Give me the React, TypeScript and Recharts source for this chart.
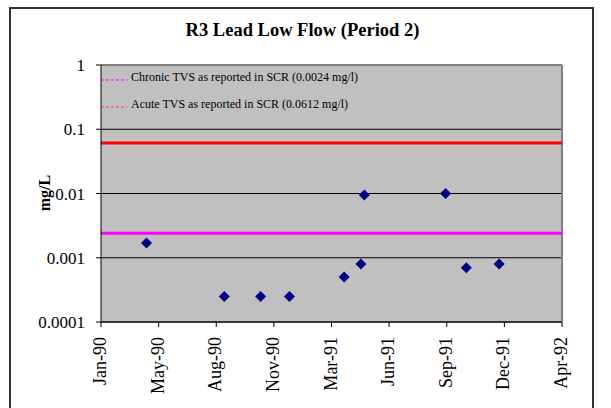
import {
  ReferenceLine,
  Scatter,
  ScatterChart,
  CartesianGrid,
  XAxis,
  YAxis,
} from "recharts";

const FONT = "'Liberation Serif', 'Times New Roman', serif";

// sampling dates and measured lead (mg/L)
const sampleDates = [
  "1990-04-16",
  "1990-08-29",
  "1990-10-31",
  "1990-12-20",
  "1991-03-25",
  "1991-04-23",
  "1991-04-29",
  "1991-09-17",
  "1991-10-23",
  "1991-12-19",
];
const leadValues = [0.0017, 0.00025, 0.00025, 0.00025, 0.0005, 0.0008, 0.0095, 0.01, 0.0007, 0.0008];

const CHRONIC_TVS = 0.0024;
const ACUTE_TVS = 0.0612;

// x axis: days since 1 Jan 1990
const tickDays = [26, 126, 226, 326, 426, 526, 626, 726, 826];
const tickLabels = ["Jan-90", "May-90", "Aug-90", "Nov-90", "Mar-91", "Jun-91", "Sep-91", "Dec-91", "Apr-92"];
const yTicks = [0.0001, 0.001, 0.01, 0.1, 1];

const DAY0 = Date.parse("1990-01-01");
const data = sampleDates.map((d, i) => ({
  day: (Date.parse(d) - DAY0) / 86400000,
  value: leadValues[i],
}));

function Diamond(props: any) {
  const { cx, cy } = props;
  const r = 5.5;
  return (
    <polygon
      points={`${cx},${cy - r} ${cx + r},${cy} ${cx},${cy + r} ${cx - r},${cy}`}
      fill="#000080"
    />
  );
}

function XTick(props: any) {
  const { x, y, payload } = props;
  const label = tickLabels[tickDays.indexOf(payload.value)];
  return (
    <text
      x={x - 1}
      y={y}
      transform={`rotate(-90 ${x - 1} ${y})`}
      textAnchor="end"
      dominantBaseline="central"
      fontSize={18}
      fontFamily={FONT}
      fill="#000"
    >
      {label}
    </text>
  );
}

function LegendBox() {
  const items = [
    { color: "#FF00FF", text: `Chronic TVS as reported in SCR (${CHRONIC_TVS} mg/l)`, y: 13 },
    { color: "#FF4040", text: `Acute TVS as reported in SCR (${ACUTE_TVS} mg/l)`, y: 40 },
  ];
  return (
    <svg width={300} height={55} style={{ position: "absolute", left: 100, top: 64 }}>
      {items.map((it) => (
        <g key={it.text}>
          <line x1={1} x2={27} y1={it.y + 3} y2={it.y + 3} stroke={it.color} strokeDasharray="3 2" />
          <text x={31} y={it.y} dominantBaseline="central" fontSize={12} fontFamily={FONT} fill="#000">
            {it.text}
          </text>
        </g>
      ))}
    </svg>
  );
}

export default function App() {
  return (
    <div
      style={{
        position: "absolute",
        left: 0,
        top: 0,
        width: 611,
        height: 408,
        background: "#fff",
        overflow: "hidden",
      }}
    >
      <div
        style={{
          position: "absolute",
          left: 9,
          top: 7,
          width: 585,
          height: 430,
          border: "2px solid #333",
          boxSizing: "border-box",
        }}
      />
      <div
        style={{
          position: "absolute",
          left: 0,
          top: 20,
          width: 605,
          textAlign: "center",
          fontFamily: FONT,
          fontWeight: "bold",
          fontSize: 18.5,
          lineHeight: "20px",
        }}
      >
        R3 Lead Low Flow (Period 2)
      </div>
      <div
        style={{
          position: "absolute",
          left: 45,
          top: 193,
          transform: "translate(-50%, -50%) rotate(-90deg)",
          fontFamily: FONT,
          fontWeight: "bold",
          fontSize: 16,
          whiteSpace: "nowrap",
        }}
      >
        mg/L
      </div>
      <ScatterChart
        width={611}
        height={408}
        margin={{ top: 65, right: 49, bottom: 0, left: 0 }}
        style={{ position: "absolute", left: 0, top: 0 }}
      >
        <CartesianGrid horizontal vertical={false} fill="#C0C0C0" stroke="#000" />
        <XAxis
          type="number"
          dataKey="day"
          domain={[26, 826]}
          ticks={tickDays}
          interval={0}
          height={86}
          tick={<XTick />}
          tickSize={5}
          tickMargin={10}
          stroke="#000"
          allowDataOverflow
        />
        <YAxis
          type="number"
          dataKey="value"
          scale="log"
          domain={[0.0001, 1]}
          ticks={yTicks}
          interval={0}
          width={101}
          tickSize={5}
          tickMargin={11}
          tickFormatter={(v: number) => String(v)}
          tick={{ fill: "#000", fontSize: 17, fontFamily: FONT }}
          stroke="#000"
          allowDataOverflow
        />
        <ReferenceLine y={1} stroke="#808080" strokeWidth={2} />
        <ReferenceLine x={826} stroke="#808080" strokeWidth={2} />
        <ReferenceLine y={CHRONIC_TVS} stroke="#FF00FF" strokeWidth={3} />
        <ReferenceLine y={ACUTE_TVS} stroke="#FF0000" strokeWidth={3} />
        <Scatter data={data} shape={<Diamond />} isAnimationActive={false} />
      </ScatterChart>
      <LegendBox />
    </div>
  );
}
